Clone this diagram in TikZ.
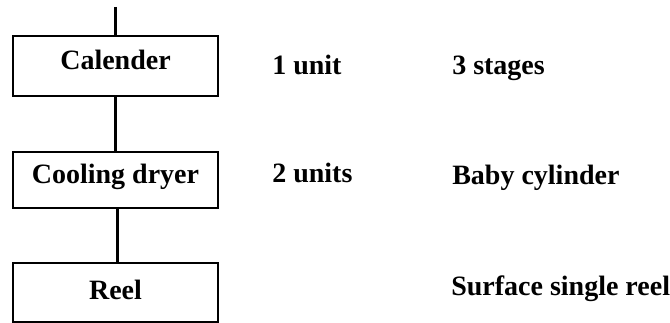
\documentclass[tikz,border=0pt]{standalone}
\usepackage{fontspec}
\setmainfont{Liberation Serif}
\begin{document}
\begin{tikzpicture}[x=0.75pt,y=-0.75pt,
  procbox/.style={draw=black, line width=1.8pt, minimum width=153.75pt, inner sep=0pt},
  txt/.style={inner sep=0pt, font=\fontsize{21}{25}\selectfont\bfseries},
  link/.style={line width=2.6pt}]
\useasboundingbox (0,0) rectangle (670,323);
% boxes
\node[procbox, minimum height=45pt] (cal) at (115.5,66) {};
\node[procbox, minimum height=42pt] (cool) at (115.5,180) {};
\node[procbox, minimum height=44.25pt] (reel) at (115.5,292.5) {};
% box texts
\node[txt, anchor=base] (calt) at (115.5,70) {Calender};
\node[txt, anchor=base] (coolt) at (115.5,184) {Cooling dryer};
\node[txt, anchor=base] (reelt) at (115.5,300) {Reel};
% side texts
\node[txt, anchor=base west] (u1) at (272,75) {1 unit};
\node[txt, anchor=base west] (s3) at (452,75) {3 stages};
\node[txt, anchor=base west] (u2) at (272,183) {2 units};
\node[txt, anchor=base west] (baby) at (452,185) {Baby cylinder};
\node[txt, anchor=base west] (surf) at (451,296) {Surface single reel};
% connectors
\coordinate (in) at (115.5,7);
\draw[link] (in) -- (cal.north);
\draw[link] (cal.south) -- (cool.north);
\draw[link] ([xshift=1.5pt]cool.south) -- ([xshift=1.5pt]reel.north);
\end{tikzpicture}
\end{document}
